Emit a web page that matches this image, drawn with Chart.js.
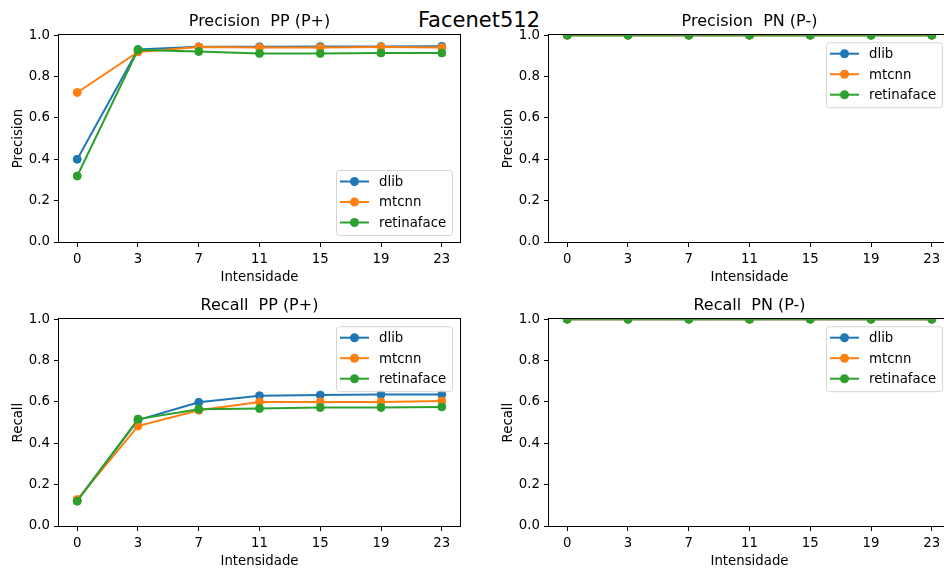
<!DOCTYPE html>
<html>
<head>
<meta charset="utf-8">
<script src="https://cdn.jsdelivr.net/npm/chart.js@4.4.1/dist/chart.umd.min.js"></script>
<style>
html, body { margin: 0; padding: 0; background: #fff; overflow: hidden; width: 944px; height: 569px; }
.box { position: absolute; width: 470px; height: 285px; }
#sup { position: absolute; left: 0; top: 8px; width: 958px; text-align: center; font: 21px "DejaVu Sans"; line-height: 24px; color: #000; }
</style>
</head>
<body>
<div id="sup">Facenet512</div>
<div class="box" style="left:0;top:0"><canvas id="c1" width="470" height="285"></canvas></div>
<div class="box" style="left:490px;top:0"><canvas id="c2" width="470" height="285"></canvas></div>
<div class="box" style="left:0;top:284px"><canvas id="c3" width="470" height="285"></canvas></div>
<div class="box" style="left:490px;top:284px"><canvas id="c4" width="470" height="285"></canvas></div>
<script>
// dados
const intensidades = ['0', '3', '7', '11', '15', '19', '23'];
const yTicks = [0, 0.2, 0.4, 0.6, 0.8, 1.0];
const detectores = ['dlib', 'mtcnn', 'retinaface'];
const cores = ['#1f77b4', '#ff7f0e', '#2ca02c'];

const precPP_dlib = [0.40, 0.931, 0.944, 0.944, 0.945, 0.945, 0.946];
const precPP_mtcnn = [0.723, 0.919, 0.943, 0.940, 0.940, 0.943, 0.940];
const precPP_retina = [0.319, 0.929, 0.921, 0.912, 0.912, 0.914, 0.914];

const precPN_dlib = [1, 1, 1, 1, 1, 1, 1];
const precPN_mtcnn = [1, 1, 1, 1, 1, 1, 1];
const precPN_retina = [1, 1, 1, 1, 1, 1, 1];

const recPP_dlib = [0.124, 0.512, 0.598, 0.630, 0.633, 0.636, 0.636];
const recPP_mtcnn = [0.128, 0.483, 0.560, 0.600, 0.600, 0.600, 0.604];
const recPP_retina = [0.120, 0.517, 0.565, 0.568, 0.573, 0.573, 0.576];

const recPN_dlib = [1, 1, 1, 1, 1, 1, 1];
const recPN_mtcnn = [1, 1, 1, 1, 1, 1, 1];
const recPN_retina = [1, 1, 1, 1, 1, 1, 1];

const FAM = '"DejaVu Sans", sans-serif';

// moldura + legenda estilo matplotlib
const frameLegend = {
    id: 'frameLegend',
    afterDatasetsDraw(chart, args, opts) {
        const { ctx, chartArea: a } = chart;
        ctx.save();
        ctx.strokeStyle = '#000';
        ctx.lineWidth = 1;
        ctx.strokeRect(Math.round(a.left) - 0.5, Math.round(a.top) - 0.5, Math.round(a.right - a.left) + 1, Math.round(a.bottom - a.top) + 1);

        const w = 116, h = 65;
        const x0 = a.right - 8 - w;
        const y0 = opts.corner === 'lr' ? a.bottom - 7 - h : a.top + 7;
        ctx.beginPath();
        ctx.roundRect(x0 + 0.5, y0 + 0.5, w, h, 3);
        ctx.fillStyle = 'rgba(255,255,255,0.8)';
        ctx.fill();
        ctx.strokeStyle = 'rgba(204,204,204,0.8)';
        ctx.stroke();

        const rows = [11.5, 32, 52.5];
        chart.data.datasets.forEach((ds, k) => {
            const y = y0 + rows[k];
            ctx.strokeStyle = ds.borderColor;
            ctx.lineWidth = 2;
            ctx.beginPath();
            ctx.moveTo(x0 + 4, y);
            ctx.lineTo(x0 + 33, y);
            ctx.stroke();
            ctx.fillStyle = ds.borderColor;
            ctx.beginPath();
            ctx.arc(x0 + 18.5, y, 4.5, 0, Math.PI * 2);
            ctx.fill();
            ctx.fillStyle = '#000';
            ctx.font = '13.3px ' + FAM;
            ctx.textBaseline = 'middle';
            ctx.textAlign = 'left';
            ctx.fillText(ds.label, x0 + 43, y + 1);
        });
        ctx.restore();
    }
};

function makeChart(id, title, yLabel, series, corner) {
    new Chart(document.getElementById(id), {
        type: 'line',
        data: {
            datasets: series.map((vals, k) => ({
                label: detectores[k],
                data: vals.map((v, i) => ({ x: i, y: v })),
                borderColor: cores[k],
                backgroundColor: cores[k],
                pointBackgroundColor: cores[k],
                pointBorderColor: cores[k],
                borderWidth: 2,
                pointRadius: 4,
                pointBorderWidth: 1,
                order: 3 - k,
                clip: 0,
                tension: 0
            }))
        },
        options: {
            responsive: false,
            animation: false,
            events: [],
            layout: { padding: { left: 0, right: 10, top: 0, bottom: 0 } },
            plugins: {
                legend: { display: false },
                tooltip: { enabled: false },
                title: {
                    display: true, text: title, fullSize: false, color: '#000',
                    font: { family: FAM, size: 16, weight: 'normal' },
                    padding: { top: 12, bottom: 4 }
                },
                frameLegend: { corner }
            },
            scales: {
                x: {
                    type: 'linear', min: -0.3, max: 6.3,
                    afterBuildTicks: s => { s.ticks = intensidades.map((_, i) => ({ value: i })); },
                    afterFit: s => { s.height = 43; },
                    ticks: { callback: v => intensidades[v], color: '#000', font: { family: FAM, size: 13.3 }, padding: 5, maxRotation: 0, autoSkip: false },
                    grid: { drawOnChartArea: false, drawTicks: true, tickLength: 5, color: '#000' },
                    border: { display: false },
                    title: { display: true, text: 'Intensidade', color: '#000', font: { family: FAM, size: 13.3 }, padding: { top: 0, bottom: -1 } }
                },
                y: {
                    min: 0, max: 1,
                    afterBuildTicks: s => { s.ticks = yTicks.map(v => ({ value: v })); },
                    afterFit: s => { s.width = 59; },
                    ticks: { callback: v => v.toFixed(1), color: '#000', font: { family: FAM, size: 13.3 }, padding: 4 },
                    grid: { drawOnChartArea: false, drawTicks: true, tickLength: 5, color: '#000' },
                    border: { display: false },
                    title: { display: true, text: yLabel, color: '#000', font: { family: FAM, size: 13.3 }, padding: { top: 11, bottom: 0 } }
                }
            }
        },
        plugins: [frameLegend]
    });
}

makeChart('c1', 'Precision  PP (P+)', 'Precision', [precPP_dlib, precPP_mtcnn, precPP_retina], 'lr');
makeChart('c2', 'Precision  PN (P-)', 'Precision', [precPN_dlib, precPN_mtcnn, precPN_retina], 'ur');
makeChart('c3', 'Recall  PP (P+)', 'Recall', [recPP_dlib, recPP_mtcnn, recPP_retina], 'ur');
makeChart('c4', 'Recall  PN (P-)', 'Recall', [recPN_dlib, recPN_mtcnn, recPN_retina], 'ur');
</script>
</body>
</html>
